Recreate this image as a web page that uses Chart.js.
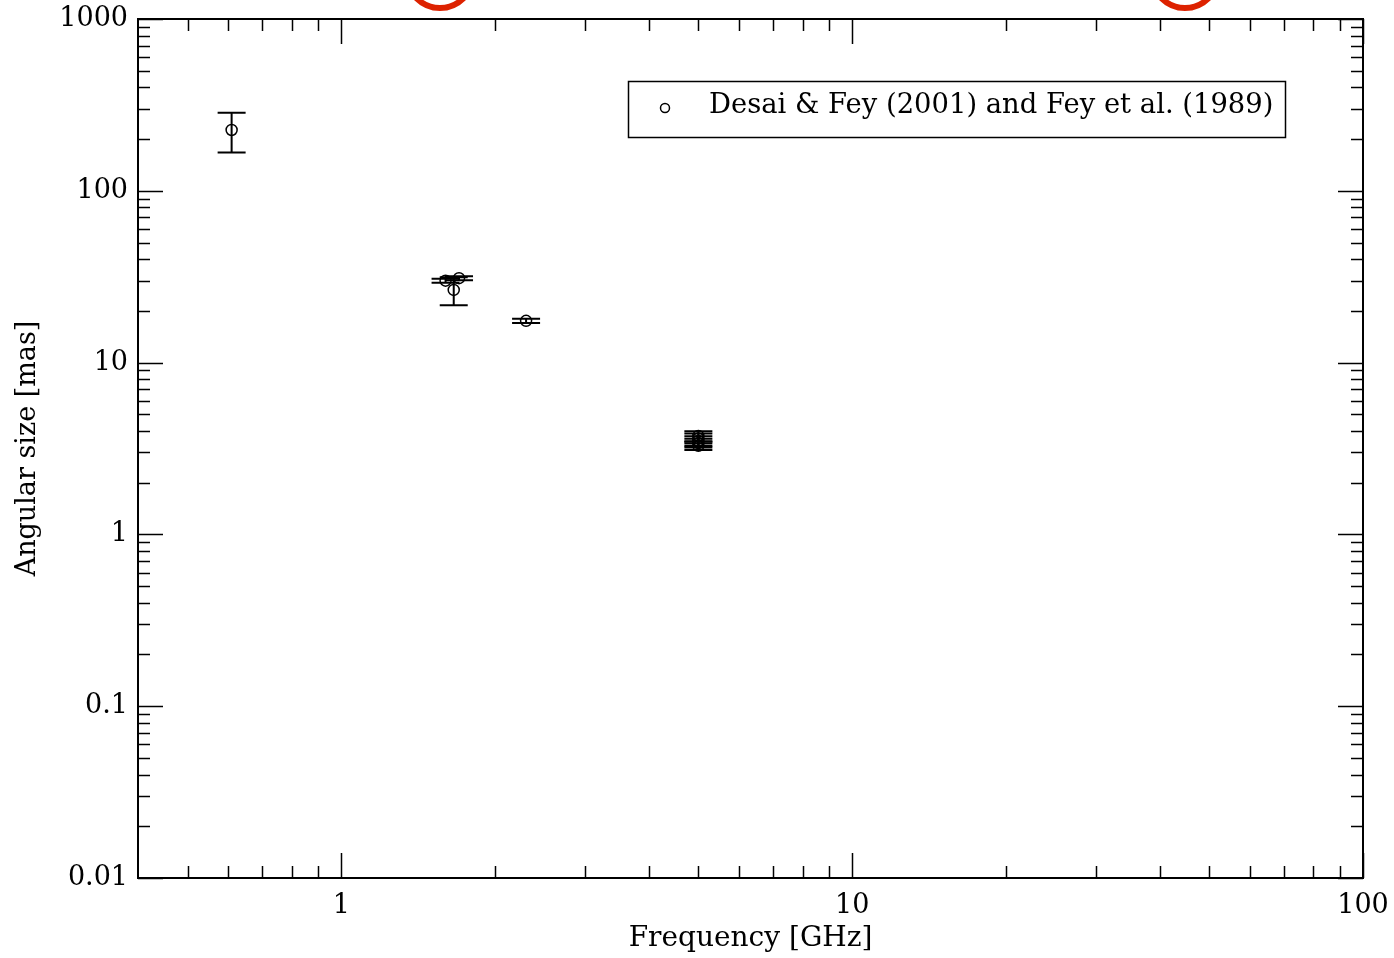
<!DOCTYPE html>
<html>
<head>
<meta charset="utf-8">
<script src="https://cdn.jsdelivr.net/npm/chart.js@4.4.1/dist/chart.umd.min.js"></script>
<style>
  html, body { margin: 0; background: #fff; }
  #wrap { width: 1394px; height: 958px; }
</style>
</head>
<body>
<div id="wrap"><canvas id="chart"></canvas></div>
<script>
// measured points (GHz, mas) and symmetric errors
const freqGHz = [0.61, 1.60, 1.70, 1.66, 2.30, 5.0, 5.0, 5.0, 5.0, 5.0];
const sizeMas = [226, 30, 31, 26.5, 17.5, 3.74, 3.62, 3.5, 3.4, 3.28];
const sizeErr = [59, 0.8, 0.8, 4.9, 0.5, 0.25, 0.24, 0.23, 0.2, 0.18];
const seriesLabel = "Desai & Fey (2001) and Fey et al. (1989)";

// axis ticks
const xMajor = [1, 10, 100];
const xMinor = [0.5, 0.6, 0.7, 0.8, 0.9, 2, 3, 4, 5, 6, 7, 8, 9, 20, 30, 40, 50, 60, 70, 80, 90];
const yMajor = [0.01, 0.1, 1, 10, 100, 1000];
const yMinor = [];
for (let d = 0.01; d < 1000; d *= 10) {
  for (let k = 2; k <= 9; k++) yMinor.push(+(d * k).toPrecision(3));
}

const serif = "'DejaVu Serif', 'Liberation Serif', serif";

const points = freqGHz.map((f, i) => ({ x: f, y: sizeMas[i] }));

// vertical error bars with caps
const errorBars = {
  id: "errorBars",
  afterDatasetsDraw(chart) {
    const ctx = chart.ctx;
    const xs = chart.scales.x, ys = chart.scales.y;
    ctx.save();
    ctx.strokeStyle = "#000";
    ctx.lineWidth = 2;
    freqGHz.forEach((f, i) => {
      const px = xs.getPixelForValue(f);
      const top = ys.getPixelForValue(sizeMas[i] + sizeErr[i]);
      const bot = ys.getPixelForValue(sizeMas[i] - sizeErr[i]);
      ctx.beginPath();
      ctx.moveTo(px, top); ctx.lineTo(px, bot);
      ctx.moveTo(px - 14, top); ctx.lineTo(px + 14, top);
      ctx.moveTo(px - 14, bot); ctx.lineTo(px + 14, bot);
      ctx.stroke();
    });
    ctx.restore();
  }
};

// box frame, inward ticks on all sides, legend box, top decorations
const frame = {
  id: "frame",
  afterDraw(chart) {
    const ctx = chart.ctx;
    const a = chart.chartArea;
    const xs = chart.scales.x, ys = chart.scales.y;
    ctx.save();
    ctx.strokeStyle = "#000";
    ctx.lineWidth = 2;
    ctx.strokeRect(a.left, a.top, a.right - a.left, a.bottom - a.top);

    ctx.lineWidth = 1.5;
    ctx.beginPath();
    const xt = (vals, len) => vals.forEach(v => {
      const px = Math.round(xs.getPixelForValue(v)) + 0.5;
      ctx.moveTo(px, a.bottom); ctx.lineTo(px, a.bottom - len);
      ctx.moveTo(px, a.top); ctx.lineTo(px, a.top + len);
    });
    const yt = (vals, len) => vals.forEach(v => {
      const py = Math.round(ys.getPixelForValue(v)) + 0.5;
      ctx.moveTo(a.left, py); ctx.lineTo(a.left + len, py);
      ctx.moveTo(a.right, py); ctx.lineTo(a.right - len, py);
    });
    xt(xMajor, 25); xt(xMinor, 12);
    yt(yMajor, 25); yt(yMinor, 12);
    ctx.stroke();

    // legend
    ctx.lineWidth = 1.5;
    ctx.strokeRect(628.5, 81.5, 657, 56);
    ctx.beginPath();
    ctx.arc(665, 108, 4.5, 0, Math.PI * 2);
    ctx.stroke();
    ctx.fillStyle = "#000";
    ctx.font = "27.4px " + serif;
    ctx.textBaseline = "middle";
    ctx.fillText(chart.data.datasets[0].label, 709, 106);

    // red arcs cut off at the top edge
    ctx.strokeStyle = "#dd2200";
    ctx.lineWidth = 6;
    [440, 1185].forEach(cx => {
      ctx.beginPath();
      ctx.arc(cx, -25, 33, 0, Math.PI);
      ctx.stroke();
    });
    ctx.restore();
  }
};

new Chart(document.getElementById("chart"), {
  type: "scatter",
  data: {
    datasets: [{
      label: seriesLabel,
      data: points,
      pointStyle: "circle",
      pointRadius: 5.5,
      pointBorderWidth: 1.5,
      borderColor: "#000",
      backgroundColor: "rgba(0,0,0,0)",
      showLine: false
    }]
  },
  options: {
    responsive: true,
    maintainAspectRatio: false,
    animation: false,
    layout: { padding: { left: 0, top: 19, right: 31, bottom: 0 } },
    plugins: { legend: { display: false }, tooltip: { enabled: false } },
    scales: {
      x: {
        type: "logarithmic",
        min: 0.4,
        max: 100,
        afterBuildTicks: s => { s.ticks = xMajor.map(v => ({ value: v })); },
        afterFit: s => { s.height = 80; s.paddingLeft = 0; s.paddingRight = 0; },
        grid: { display: false, drawTicks: false, tickLength: 0 },
        border: { display: false },
        ticks: {
          autoSkip: false, maxRotation: 0, padding: 12, color: "#000",
          font: { family: serif, size: 27 },
          callback: v => String(v)
        },
        title: {
          display: true, text: "Frequency [GHz]", color: "#000",
          font: { family: serif, size: 28 }, padding: { top: 0, bottom: 2 }
        }
      },
      y: {
        type: "logarithmic",
        min: 0.01,
        max: 1000,
        afterBuildTicks: s => { s.ticks = yMajor.map(v => ({ value: v })); },
        afterFit: s => { s.width = 138; s.paddingTop = 0; s.paddingBottom = 0; },
        grid: { display: false, drawTicks: false, tickLength: 0 },
        border: { display: false },
        ticks: {
          autoSkip: false, padding: 10, color: "#000",
          font: { family: serif, size: 27 },
          callback: v => String(v)
        },
        title: {
          display: true, text: "Angular size [mas]", color: "#000",
          font: { family: serif, size: 27 }, padding: { top: 12, bottom: 0 }
        }
      }
    }
  },
  plugins: [errorBars, frame]
});
</script>
</body>
</html>
